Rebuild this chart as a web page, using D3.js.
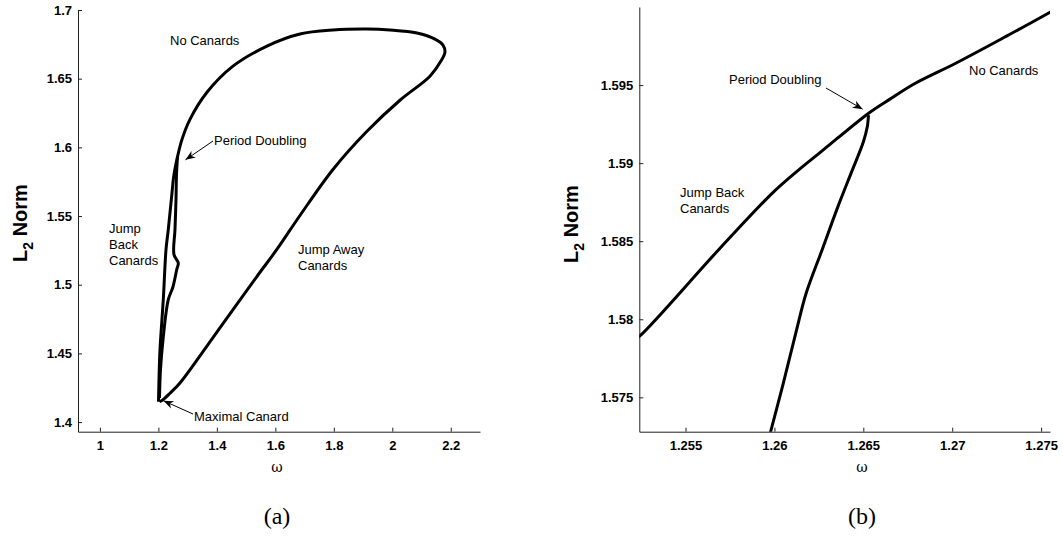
<!DOCTYPE html>
<html>
<head>
<meta charset="utf-8">
<script src="https://cdn.jsdelivr.net/npm/d3@7"></script>
<style>
  body { margin: 0; background: #fff; }
  svg { display: block; }
  .tick text { font-family: "Liberation Sans", Arial, sans-serif; font-weight: bold; font-size: 13px; fill: #000; }
  .domain, .tick line { stroke: #222; }
  .lbl { font-family: "Liberation Sans", Arial, sans-serif; font-size: 13px; fill: #000; }
</style>
</head>
<body>
<svg width="1063" height="541"></svg>
<script>
// panel (a): the full bifurcation curve, [omega, L2 norm]
const loopA = [
  [1.2037, 1.4148], [1.2157, 1.4163], [1.2396, 1.4210], [1.2738, 1.4285], [1.3422, 1.4482],
  [1.4448, 1.4788], [1.5361, 1.5058], [1.6045, 1.5255], [1.6842, 1.5504], [1.7971, 1.5839],
  [1.9134, 1.6117], [2.0262, 1.6343], [2.1288, 1.6518], [2.1664, 1.6628], [2.1801, 1.6693],
  [2.1733, 1.6745], [2.1459, 1.6788], [2.0843, 1.6832], [1.9920, 1.6854], [1.9134, 1.6861],
  [1.7971, 1.6854], [1.6842, 1.6825], [1.5714, 1.6737], [1.4551, 1.6591], [1.3662, 1.6401],
  [1.3080, 1.6204], [1.2807, 1.6058], [1.2653, 1.5931],
  [1.2524, 1.5789], [1.2454, 1.5645], [1.2338, 1.5401], [1.2260, 1.5255], [1.2167, 1.4891],
  [1.2054, 1.4526], [1.2020, 1.4307], [1.2003, 1.4148]
];
// period-doubled branch leaving the PD point
const branchA = [
  [1.2653, 1.5931], [1.2619, 1.5803], [1.2602, 1.5620], [1.2567, 1.5401], [1.2533, 1.5219],
  [1.2680, 1.5158], [1.2626, 1.5109], [1.2499, 1.4985], [1.2338, 1.4891], [1.2157, 1.4599],
  [1.2071, 1.4380], [1.2037, 1.4175]
];
// panel (b): zoom near the period doubling point
const mainB = [
  [1.2520, 1.5786], [1.2524, 1.5789], [1.2569, 1.5845], [1.2599, 1.5881], [1.2614, 1.5896],
  [1.2627, 1.5908], [1.2653, 1.5932], [1.2665, 1.5941], [1.2679, 1.5951], [1.2702, 1.5964],
  [1.2730, 1.5981], [1.2754, 1.5996], [1.2760, 1.6000]
];
const branchB = [
  [1.26529, 1.59308], [1.26522, 1.59231], [1.26500, 1.59135], [1.26438, 1.58955],
  [1.26354, 1.58712], [1.26271, 1.58453], [1.26178, 1.58165], [1.26124, 1.57929],
  [1.26047, 1.57577], [1.25978, 1.57278], [1.25967, 1.57224]
];
const xTicksA = [1, 1.2, 1.4, 1.6, 1.8, 2, 2.2];
const yTicksA = [1.4, 1.45, 1.5, 1.55, 1.6, 1.65, 1.7];
const xTicksB = [1.255, 1.26, 1.265, 1.27, 1.275];
const yTicksB = [1.575, 1.58, 1.585, 1.59, 1.595];

const svg = d3.select("svg");
svg.append("defs").append("marker")
  .attr("id", "arr").attr("viewBox", "0 0 10 10").attr("refX", 10).attr("refY", 5)
  .attr("markerWidth", 10).attr("markerHeight", 10).attr("markerUnits", "userSpaceOnUse")
  .attr("orient", "auto")
  .append("path").attr("d", "M0,1 L10,5 L0,9 L3,5 Z").attr("fill", "#000");

function panel(id, xDom, xRange, yDom, yRange, xTicks, yTicks, curves) {
  const x = d3.scaleLinear().domain(xDom).range(xRange);
  const y = d3.scaleLinear().domain(yDom).range(yRange);
  const g = svg.append("g");
  g.append("clipPath").attr("id", id)
    .append("rect").attr("x", xRange[0]).attr("y", yRange[1])
    .attr("width", xRange[1] - xRange[0]).attr("height", yRange[0] - yRange[1]);
  const fmt = d => String(+d.toFixed(3));
  g.append("g").attr("transform", `translate(0,${yRange[0]})`)
    .call(d3.axisBottom(x).tickValues(xTicks).tickFormat(fmt).tickSizeInner(-4).tickSizeOuter(0).tickPadding(9));
  g.append("g").attr("transform", `translate(${xRange[0]},0)`)
    .call(d3.axisLeft(y).tickValues(yTicks).tickFormat(fmt).tickSizeInner(-4).tickSizeOuter(0).tickPadding(6));
  const line = d3.line().x(d => x(d[0])).y(d => y(d[1])).curve(d3.curveCatmullRom.alpha(0.5));
  curves.forEach(c => {
    g.append("path").datum(c).attr("d", line).attr("clip-path", `url(#${id})`)
      .attr("fill", "none").attr("stroke", "#000").attr("stroke-width", 3).attr("stroke-linejoin", "round");
  });
  return { x, y, g };
}

const A = panel("clipA", [0.925, 2.3], [78, 480], [1.393, 1.7], [431.7, 10], xTicksA, yTicksA, [loopA, branchA]);
const B = panel("clipB", [1.2524, 1.2755], [639.3, 1050], [1.5728, 1.6], [431.7, 7], xTicksB, yTicksB, [mainB, branchB]);

function ylabel(x0, yc) {
  const t = svg.append("text").attr("transform", `translate(${x0},${yc}) rotate(-90)`)
    .attr("text-anchor", "middle").attr("font-family", "Liberation Sans, Arial, sans-serif")
    .attr("font-weight", "bold").attr("font-size", 20);
  t.append("tspan").text("L");
  t.append("tspan").text("2").attr("font-size", 14).attr("dy", 6);
  t.append("tspan").text(" Norm").attr("dy", -6);
}
ylabel(27, 223);
ylabel(578, 224);

[[277, "(a)"], [862, "(b)"]].forEach(([cx, s]) => {
  svg.append("text").attr("x", cx).attr("y", 472).attr("text-anchor", "middle")
    .attr("font-family", "DejaVu Serif, serif").attr("font-size", 14).text("ω");
  svg.append("text").attr("x", cx).attr("y", 524).attr("text-anchor", "middle")
    .attr("font-family", "Liberation Serif, serif").attr("font-size", 24).text(s);
});

function label(x0, y0, lines) {
  lines.forEach((s, i) => svg.append("text").attr("class", "lbl").attr("x", x0).attr("y", y0 + i * 16).text(s));
}
function arrow(x1, y1, x2, y2) {
  svg.append("line").attr("x1", x1).attr("y1", y1).attr("x2", x2).attr("y2", y2)
    .attr("stroke", "#000").attr("stroke-width", 1).attr("marker-end", "url(#arr)");
}

label(170, 45, ["No Canards"]);
label(214, 145, ["Period Doubling"]);
arrow(213, 141, A.x(1.2653) + 8, A.y(1.5931) + 3);
label(109, 233, ["Jump", "Back", "Canards"]);
label(298, 254, ["Jump Away", "Canards"]);
label(194, 421, ["Maximal Canard"]);
arrow(193, 414, A.x(1.2037) + 4, A.y(1.4148) - 1);

label(729, 84, ["Period Doubling"]);
arrow(826, 88, B.x(1.2653) - 6, B.y(1.5932) - 4);
label(969, 75, ["No Canards"]);
label(680, 197, ["Jump Back", "Canards"]);
</script>
</body>
</html>
